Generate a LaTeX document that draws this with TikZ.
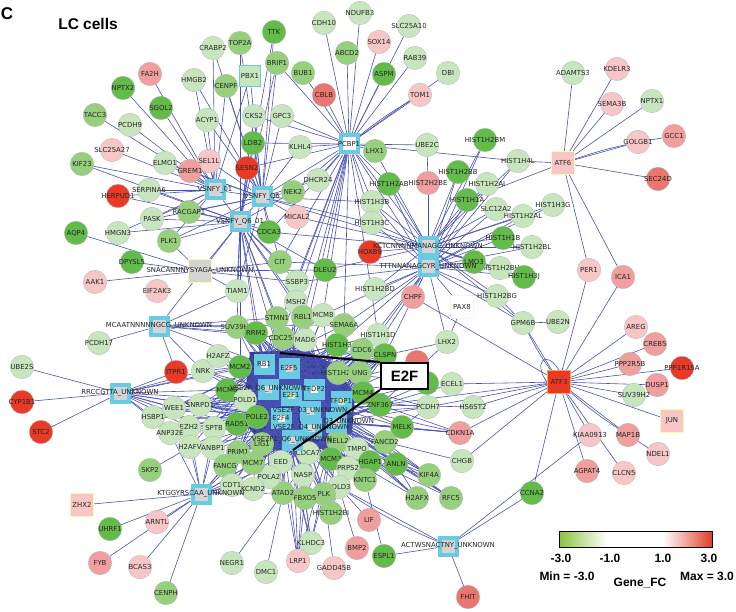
\documentclass[tikz,border=0pt]{standalone}
\usepackage{fontspec}
\setmainfont{Liberation Sans}
\newfontfamily\genefont{DejaVu Sans}
\usetikzlibrary{positioning}
\definecolor{gD}{RGB}{99,187,74}
\definecolor{gM}{RGB}{150,208,125}
\definecolor{gL}{RGB}{200,230,190}
\definecolor{pL}{RGB}{247,198,198}
\definecolor{pM}{RGB}{240,158,158}
\definecolor{pS}{RGB}{234,118,112}
\definecolor{rD}{RGB}{234,58,38}
\definecolor{sqB}{RGB}{104,203,226}
\definecolor{edgeC}{RGB}{72,82,182}
\definecolor{cbG}{RGB}{140,195,60}
\definecolor{cbR}{RGB}{228,60,40}
\pgfdeclarelayer{bg}
\pgfsetlayers{bg,main}
\tikzset{
  gene/.style={circle,minimum size=23.5pt,inner sep=0pt,draw=black!30,line width=0.3pt},
  glab/.style={font=\genefont\fontsize{6.9}{7.5}\selectfont,text=black!85,inner sep=0pt},
  tf/.style={rectangle,minimum size=17pt,inner sep=0pt,draw=sqB,line width=4pt,fill=black!17},
  tfp/.style={rectangle,minimum size=23pt,inner sep=0pt,draw=yellow!35,line width=1pt},
  esq/.style={rectangle,minimum size=14pt,inner sep=0pt,draw=sqB,line width=7pt},
  edge/.style={draw=edgeC,line width=0.6pt},
  callout/.style={draw=black,line width=2pt}
}
\begin{document}
\begin{tikzpicture}[x=1pt,y=-1pt]
\useasboundingbox (0,0) rectangle (736,612);
\node[font=\bfseries\fontsize{17}{17}\selectfont] (panel) at (7,14) {C};
\node[font=\bfseries\fontsize{15.5}{16}\selectfont] (title) at (88,24) {LC cells};
% genes, top half
\foreach \n/\x/\y/\c in {CRABP2/213/48/gL,TOP2A/240/43/gM,FA2H/150/74/pM,HMGB2/194/80/gL,CENPF/226/86/gM,
  NPTX2/123/88/gD,SGOL2/161/108/gD,TACC3/95/115/gM,PCDH9/130/125/gL,ACYP1/207/120/gL,SLC25A27/112/150/pL,
  ELMO1/165/163/gL,SEL1L/209/161/pL,KIF23/82/164/gM,GREM1/190/171/pM,SERPINA6/149/190/gL,HERPUD1/118/196/rD,
  TTK/274/32/gD,BRIP1/277/63/gM,BUB1/303/73/gM,CDH10/324/23/gL,NDUFB3/360/13/gL,SLC25A10/409/26/gL,
  SOX14/379/42/pL,ABCD2/347/53/gM,RAB39/415/58/gL,ASPM/384/74/gD,DBI/448/73/gL,CBLB/324/95/pS,TOM1/420/95/pL,
  CKS2/254/116/gL,GPC3/282/116/gL,LDB2/253/143/gD,KLHL4/300/147/gL,LHX1/375/151/gM,UBE2C/427/145/gL,
  HIST1H2BM/485/140/gD,HIST1H4L/518/161/gL,SESN2/247/168/rD,DHCR24/318/180/gL,HIST1H2BB/458/172/gD,
  HIST2H2BE/428/183/pM,HIST1H2AB/389/184/gD,HIST1H2AI/487/184/gL,NEK2/293/192/gM,HIST1H3B/372/202/gL,
  HIST1H1A/467/200/gD,ADAMTS3/573/73/gL,KDELR3/617/69/pL,SEMA3B/612/104/pL,NPTX1/652/101/gL,
  GOLGB1/638/142/pL,GCC1/674/136/pM,SEC24D/658/179/pS,HIST1H3G/553/205/gL,SLC12A2/496/209/gL,
  HIST1H2AL/523/216/gL,HIST1H1B/503/238/gD,HIST1H2BL/532/247/gL,HIST1H2BH/500/268/gL,HIST1H3J/524/277/gD,
  HIST1H2BG/497/296/gL,PER1/589/270/pL,ICA1/623/277/pM,GPM6B/523/323/gL,UBE2N/558/322/gL,AREG/636/327/pL,
  CREB5/655/344/pM,PPP2R5B/630/364/pM,PPP1R15A/682/368/rD,DUSP1/657/385/pM,SUV39H2/634/395/gL,
  KIAA0913/590/435/pL,MAP1B/628/435/pM,NDEL1/658/454/pL,AGPAT4/587/471/pM,CLCN5/624/473/pL,CCNA2/532/493/gD}
  \node[gene,fill=\c,label={[glab]center:\n}] (\n) at (\x,\y) {};
% genes, left side
\foreach \n/\x/\y/\c in {PASK/152/219/gL,RACGAP1/189/212/gM,AQP4/76/233/gD,HMGN3/118/233/gL,PLK1/169/241/gM,
  DPYSL5/132/262/gD,AAK1/95/282/pL,EIF2AK3/157/291/pL,TIAM1/237/291/gL,SUV39H1/237/327/gM,PCDH17/99/343/gL,
  UBE2S/22/367/gL,ITPR1/176/372/rD,NRK/203/371/gL,H2AFZ/218/356/gL,MCM2/240/367/gD,MCM6/227/390/gD,
  POLD1/245/400/gL,CYP1B1/22/402/rD,STC2/41/432/rD,HSBP1/153/417/gL,WEE1/174/408/gL,SNRPD1/200/405/gL,
  EZH2/189/427/gL,SPTB/214/428/gL,RAD51/237/424/gD,ANP32E/170/433/gL,H2AFV/190/447/gL,ANBP1/213/448/gL,
  PRIM1/238/452/gM,FANCG/225/466/gM,SKP2/150/470/gM,CDT1/232/485/gL,ARNTL/157/522/pL,UHRF1/110/529/gD,
  FYB/100/563/pM,BCAS3/140/567/pL,CENPH/166/593/gM,NEGR1/232/563/gL}
  \node[gene,fill=\c,label={[glab]center:\n}] (\n) at (\x,\y) {};
% genes, centre
\foreach \n/\x/\y/\c in {MICAL2/297/217/pL,HIST1H3C/372/223/gL,CDCA3/269/232/gD,HOXB9/370/252/rD,
  LMO3/474/262/gD,CIT/280/262/gM,DLEU2/325/270/gD,SSBP3/297/282/gL,HIST1H2BD/375/289/gL,CHPF/413/297/pM,
  MSH2/296/302/gL,STMN1/277/318/gM,RBL1/303/317/gM,MCM8/323/315/gL,SEMA6A/344/325/gM,RRM2/256/333/gD,
  HIST1H1D/378/335/gL,LHX2/447/342/gL,CDC25A/283/338/gM,MAD6/305/340/gL,HIST1H3/337/345/gD,CDC6/362/350/gM,
  CLSPN/385/355/gD,ECEL1/452/384/gL,HIST1H2A/338/373/gM,UNG/360/373/gM,MCM4/363/393/gD,ZNF367/380/405/gD,
  PCDH7/428/407/gL,HS6ST2/473/407/gL,MELK/402/427/gD,CDKN1A/460/433/pM,FANCD2/385/442/gM,NELL2/338/441/gM,
  TMPO/357/449/gL,CDCA7/308/453/gL,MCM3/331/459/gD,ARHGAP11A/370/462/gD,ANLN/396/464/gD,CHGB/462/461/gL,
  PRPS2/348/468/gL,KIF4A/429/475/gM,NASP/303/475/gL,KNTC1/365/480/gM,POLD3/339/487/gL,PLK/324/494/gM,
  FBXO5/305/498/gM,ATAD2/283/493/gM,H2AFX/417/498/gM,RFC5/451/498/gM,HIST1H2BI/331/513/gM,LIF/369/520/pM,
  KLHDC3/311/543/gL,BMP2/357/548/pM,ESPL1/384/556/gD,LRP1/298/561/pL,GADD45B/334/568/pL,DMC1/266/572/gL,
  FHIT/468/597/pS,EED/281/462/gL,POLA2/269/477/gL,MCM7/253/463/gM,KCND2/253/489/gL,LIG1/262/444/gM,
  POLE2/257/417/gD}
  \node[gene,fill=\c,label={[glab]center:\n}] (\n) at (\x,\y) {};
\node[gene,fill=pS] (X1) at (417,362) {};
\node[gene,fill=gD] (X2) at (427,383) {};
% motif and factor squares
\node[tf,label={[glab]center:VSNFY\_01}] (vsnfyA) at (215,190) {};
\node[tf,label={[glab]center:VSNFY\_Q6}] (vsnfyB) at (262,197) {};
\node[tf,label={[glab]center:VSNFY\_Q6\_01}] (vsnfyC) at (240,222) {};
\node[tf,fill=white,label={[glab]center:PCBP1}] (pcbp) at (349,144) {};
\node[tf,fill=gL,line width=1.5pt,minimum size=21pt,label={[glab]center:PBX1}] (pbx) at (250,76) {};
\node[tf,label={[glab]center:KCTCNNNNMANAGC\_UNKNOWN}] (tctn) at (428,247) {};
\node[tf,label={[glab]center:TTTNNANAGCYR\_UNKNOWN}] (tttn) at (428,267) {};
\node[tfp,fill=black!17,label={[glab]center:SNACANNNYSYAGA\_UNKNOWN}] (snac) at (200,271) {};
\node[tf,label={[glab]center:MCAATNNNNNGCG\_UNKNOWN}] (mcaa) at (159,326) {};
\node[tf,label={[glab]center:RRCCGTTA\_UNKNOWN}] (rrcc) at (120,393) {};
\node[tf,label={[glab]center:KTGGYRSCAA\_UNKNOWN}] (ktgg) at (201,494) {};
\node[tf,label={[glab]center:ACTWSNACTNY\_UNKNOWN}] (actw) at (448,546) {};
\node[tfp,fill=pL,label={[glab]center:ATF6}] (atfsix) at (563,163) {};
\node[tfp,fill=rD,draw=orange!70,label={[glab]center:ATF3}] (atfthree) at (559,382) {};
\node[tfp,fill=pL,label={[glab]center:JUN}] (jun) at (672,421) {};
\node[tfp,fill=pL,label={[glab]center:ZHX2}] (zhx) at (82,505) {};
\node[tfp,fill=white,draw=pink!25,label={[glab]center:PAX8}] (pax) at (462,307) {};
% E2F cluster
\node[esq,fill=white,label={[glab]center:RB1}] (rb) at (264,364) {};
\node[esq,fill=pL,label={[glab]center:E2F5}] (efive) at (289,368) {};
\node[esq,fill=black!15] (eqsix) at (268,389) {};
\node[esq,fill=gL,label={[glab]center:E2F1}] (eone) at (291,395) {};
\node[esq,fill=white,label={[glab]center:TFDP2}] (tfdptwo) at (314,389) {};
\node[esq,fill=gL,label={[glab]center:TFDP1}] (tfdpone) at (341,401) {};
\node[esq,fill=white,label={[glab]center:E2F4}] (efour) at (281,418) {};
\node[esq,fill=black!15,label={[glab]center:VSE2F\_03\_UNKNOWN}] (ezthree) at (310,411) {};
\node[esq,fill=black!15,label={[glab]center:VSE2F\_Q3\_UNKNOWN}] (eqthree) at (336,422) {};
\node[esq,fill=black!15,label={[glab]center:VSE2F\_Q4\_UNKNOWN}] (eqfour) at (311,428) {};
\node[esq,fill=black!15,label={[glab]center:VSE2F1\_Q6\_UNKNOWN}] (eqsixb) at (292,440) {};
\node[glab] (eqsixlab) at (eqsix) {VSE2F\_Q6\_UNKNOWN};
\begin{pgfonlayer}{bg}
\fill[edgeC!75!black] (250,352) -- (305,350) -- (335,365) -- (355,395) -- (352,432) -- (330,448)
  -- (300,452) -- (270,450) -- (250,430) -- (245,395) -- cycle;
\foreach \g in {FA2H,NPTX2,SGOL2,TACC3,PCDH9,SLC25A27,ELMO1,KIF23,GREM1,SEL1L,HERPUD1,SERPINA6,
  ACYP1,HMGB2,CRABP2,CENPF,PASK,HMGN3,RACGAP1,PLK1,vsnfyB,vsnfyC,pbx}
  \draw[edge] (vsnfyA) -- (\g);
\foreach \g in {TOP2A,TTK,BRIP1,CENPF,HMGB2,CRABP2,ACYP1,CKS2,GPC3,LDB2,KLHL4,SESN2,NEK2,DHCR24,SEL1L,
  GREM1,ELMO1,RACGAP1,PASK,PLK1,CDCA3,MICAL2,CIT,HIST1H3B,HIST1H3C,TIAM1,vsnfyC,pbx}
  \draw[edge] (vsnfyB) -- (\g);
\foreach \g in {TOP2A,TTK,BRIP1,CKS2,LDB2,SESN2,NEK2,RACGAP1,PLK1,PASK,HMGN3,CDCA3,CIT,TIAM1,SERPINA6,
  KIF23,HERPUD1,CDC25A,RRM2,STMN1,MCM2,SUV39H1,MSH2,SSBP3,DLEU2,RBL1,rb,eone}
  \draw[edge] (vsnfyC) -- (\g);
\foreach \g in {CDH10,NDUFB3,SLC25A10,SOX14,ABCD2,RAB39,DBI,ASPM,TOM1,CBLB,KLHL4,GPC3,CKS2,LDB2,LHX1,
  BUB1,BRIP1,DHCR24,NEK2,HIST1H2AB,HIST1H3B,HIST1H4L,UBE2C,CIT,DLEU2,MSH2,SSBP3,HIST1H3C,MCM8,RBL1,
  SEMA6A,HIST1H1D,SESN2,CDCA3,vsnfyB,tctn,tttn,rb,eone}
  \draw[edge] (pcbp) -- (\g);
\draw[edge] (pcbp) to[bend left=4] (TOM1);
\foreach \sa in {tctn,tttn}
  \foreach \g in {HIST1H2BM,HIST1H4L,HIST1H2AI,HIST1H1A,HIST1H2BB,HIST2H2BE,HIST1H2AB,HIST1H3B,HIST1H3C,
    HIST1H2BD,HIST1H3G,SLC12A2,HIST1H2AL,HIST1H1B,HIST1H2BL,HIST1H2BH,HIST1H3J,HIST1H2BG,LMO3,GPM6B}
    \draw[edge] (\sa) -- (\g);
\foreach \g in {HOXB9,LHX1,DLEU2,MICAL2,CDCA3,vsnfyB}
  \draw[edge] (tctn) -- (\g);
\foreach \g in {CHPF,pax,LHX2,HIST1H3,CDC6,CLSPN,SEMA6A,HIST1H1D,MCM8,SSBP3,CIT,tfdpone}
  \draw[edge] (tttn) -- (\g);
\foreach \g in {ADAMTS3,KDELR3,SEMA3B,NPTX1,GOLGB1,SEC24D,HIST1H4L,HIST1H1A,PER1,ICA1}
  \draw[edge] (atfsix) -- (\g);
\draw[edge] (atfsix) to[bend left=3] (GOLGB1);
\draw[edge] (GOLGB1) -- (GCC1);
\foreach \g in {PER1,ICA1,AREG,CREB5,PPP2R5B,PPP1R15A,DUSP1,SUV39H2,jun,MAP1B,KIAA0913,AGPAT4,CLCN5,
  CCNA2,GPM6B,CDKN1A,CHGB,CHPF,HS6ST2,ZNF367,ECEL1,PCDH7}
  \draw[edge] (atfthree) -- (\g);
\draw[edge] (atfthree) to[bend left=4] (GPM6B);
\draw[edge] (atfthree) to[bend right=4] (MAP1B);
\draw[edge] (atfthree.west) .. controls +(-14,-18) and +(-14,-22) .. (atfthree.north);
\draw[edge] (MAP1B) -- (NDEL1);
\foreach \g in {AQP4,AAK1,DPYSL5,PLK1,TIAM1,vsnfyC,SSBP3,DLEU2,CIT}
  \draw[edge] (snac) -- (\g);
\foreach \g in {PCDH17,NRK,SUV39H1,TIAM1,vsnfyC,RRM2,STMN1,CDC25A,SEMA6A,rb}
  \draw[edge] (mcaa) -- (\g);
\foreach \g in {UBE2S,CYP1B1,STC2,ITPR1,WEE1,SNRPD1,HSBP1,EZH2,ANP32E,MCM6,NRK,MCM2,POLD1,SPTB,RAD51,efour,rb}
  \draw[edge] (rrcc) -- (\g);
\foreach \g in {zhx,UHRF1,ARNTL,FYB,BCAS3,CENPH,H2AFV,EZH2,ANBP1,FANCG,CDT1,PRIM1,KCND2,MCM7,POLA2,
  ATAD2,EED,efour,eqsixb,SPTB,ANP32E}
  \draw[edge] (ktgg) -- (\g);
\foreach \g in {ESPL1,FHIT,CCNA2,POLD3,KIAA0913}
  \draw[edge] (actw) -- (\g);
\draw[edge] (actw) to[bend left=5] (POLD3);
\foreach \a/\b in {UBE2C/HIST2H2BE,pax/LHX2,GPM6B/UBE2N,HIST1H2BG/GPM6B,SKP2/H2AFV,KNTC1/ESPL1,POLD3/LIF,
  POLD3/BMP2,PLK/GADD45B,KLHDC3/FBXO5,KLHDC3/PLK,LRP1/FBXO5,LRP1/NASP,DMC1/ATAD2,NEGR1/ATAD2,
  KIF4A/ARHGAP11A,KIF4A/FANCD2,H2AFX/ANLN,RFC5/ANLN,CHGB/FANCD2,CDKN1A/MELK,ECEL1/ZNF367,LHX2/CLSPN,
  LHX2/ZNF367,HS6ST2/ZNF367,PCDH7/MELK,HIST1H2BI/PLK,HIST1H2BI/POLD3,ITPR1/mcaa}
  \draw[edge] (\a) -- (\b);
\foreach \sa in {rb,efive,eqsix,eone,tfdptwo,tfdpone,efour,ezthree,eqthree,eqfour,eqsixb}
  \foreach \g in {MCM2,MCM6,POLD1,RAD51,POLE2,LIG1,MCM7,EED,CDCA7,NASP,MCM3,NELL2,TMPO,MCM4,UNG,
    HIST1H2A,CLSPN,CDC6,HIST1H3,MAD6,CDC25A,RRM2,RBL1,ZNF367,PRPS2,POLA2,SNRPD1,PRIM1}
    \draw[edge] (\sa) -- (\g);
\foreach \sa in {rb,eone,efour,eqthree}
  \foreach \g in {STMN1,MCM8,SUV39H1,H2AFZ,NRK,WEE1,EZH2,SPTB,H2AFV,ANBP1,FANCG,CDT1,KCND2,ATAD2,FBXO5,
    PLK,POLD3,KNTC1,HIST1H2BI,SEMA6A,HIST1H1D,X1,X2,PCDH7,ARHGAP11A,ANLN,FANCD2,MELK,KIF4A,H2AFX,
    RFC5,KLHDC3,LRP1,HSBP1,ANP32E,MSH2,CDKN1A}
    \draw[edge] (\sa) -- (\g);
\foreach \sa [count=\i] in {rb,efive,eqsix,eone,tfdptwo,tfdpone,efour,ezthree,eqthree,eqfour,eqsixb}
  \foreach \sb [count=\j] in {rb,efive,eqsix,eone,tfdptwo,tfdpone,efour,ezthree,eqthree,eqfour,eqsixb}
    {\ifnum\i<\j \draw[edge] (\sa) -- (\sb); \fi}
\end{pgfonlayer}
% E2F call-out
\node[draw,line width=2pt,fill=white,minimum width=47pt,minimum height=26pt,inner sep=0pt,
  font=\bfseries\fontsize{15}{15}\selectfont] (e2fbox) at (404.5,376) {E2F};
\coordinate (calloutA) at (280,353);
\coordinate (calloutB) at (293,450);
\draw[callout] (e2fbox.north west) -- (calloutA);
\draw[callout] (e2fbox.south west) -- (calloutB);
% colour legend
\shade[left color=cbG,right color=white] (559,531) rectangle (607,547);
\shade[left color=white,right color=cbR] (663,531) rectangle (712,547);
\draw[line width=0.8pt] (559,531) rectangle (712,547);
\node[font=\bfseries\fontsize{12}{12}\selectfont] (tickA) at (561,558) {-3.0};
\node[font=\bfseries\fontsize{12}{12}\selectfont] (tickB) at (610,558) {-1.0};
\node[font=\bfseries\fontsize{12}{12}\selectfont] (tickC) at (663,558) {1.0};
\node[font=\bfseries\fontsize{12}{12}\selectfont] (tickD) at (709,558) {3.0};
\node[font=\bfseries\fontsize{12}{12}\selectfont] (minlab) at (567,576) {Min = -3.0};
\node[font=\bfseries\fontsize{12}{12}\selectfont] (maxlab) at (707,576) {Max = 3.0};
\node[font=\bfseries\fontsize{12}{12}\selectfont] (fclab) at (640,583) {Gene\_FC};
\end{tikzpicture}
\end{document}
